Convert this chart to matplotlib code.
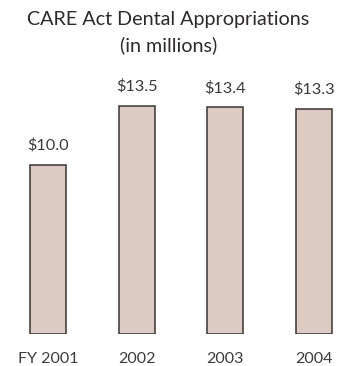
import matplotlib
matplotlib.use("Agg")
import matplotlib.pyplot as plt

# chart data
years = ["FY 2001", "2002", "2003", "2004"]
amounts = [10.0, 13.5, 13.4, 13.3]
labels = ["$10.0", "$13.5", "$13.4", "$13.3"]

plt.rcParams['font.family'] = ['Lato', 'DejaVu Sans']
text_color = '#2e2a2a'
label_color = '#3e3a3a'

fig = plt.figure(figsize=(3.37, 3.66), dpi=100)
ax = fig.add_axes([0, 32 / 366, 1, 274 / 366])

x = list(range(len(years)))
ax.bar(x, amounts, width=0.405, color='#dccbc3', edgecolor='#3a3434', linewidth=1.1)

for xi, v, lab in zip(x, amounts, labels):
    ax.text(xi, v + 0.72, lab, ha='center', va='bottom', fontsize=11.8,
            color=label_color)

ax.set_xlim(-0.541, 3.259)
ax.set_ylim(0, 16.2)
ax.set_xticks(x)
ax.set_xticklabels(years, fontsize=11.5, color=label_color)
ax.tick_params(axis='x', length=0, pad=13)
ax.set_yticks([])
for s in ax.spines.values():
    s.set_visible(False)

fig.text(0.5, 1 - 20 / 366, "CARE Act Dental Appropriations", ha='center',
         va='center', fontsize=14.2, color=text_color)
fig.text(0.5, 1 - 45 / 366, "(in millions)", ha='center', va='center',
         fontsize=14.2, color=text_color)

fig.savefig("out.png", dpi=100)
